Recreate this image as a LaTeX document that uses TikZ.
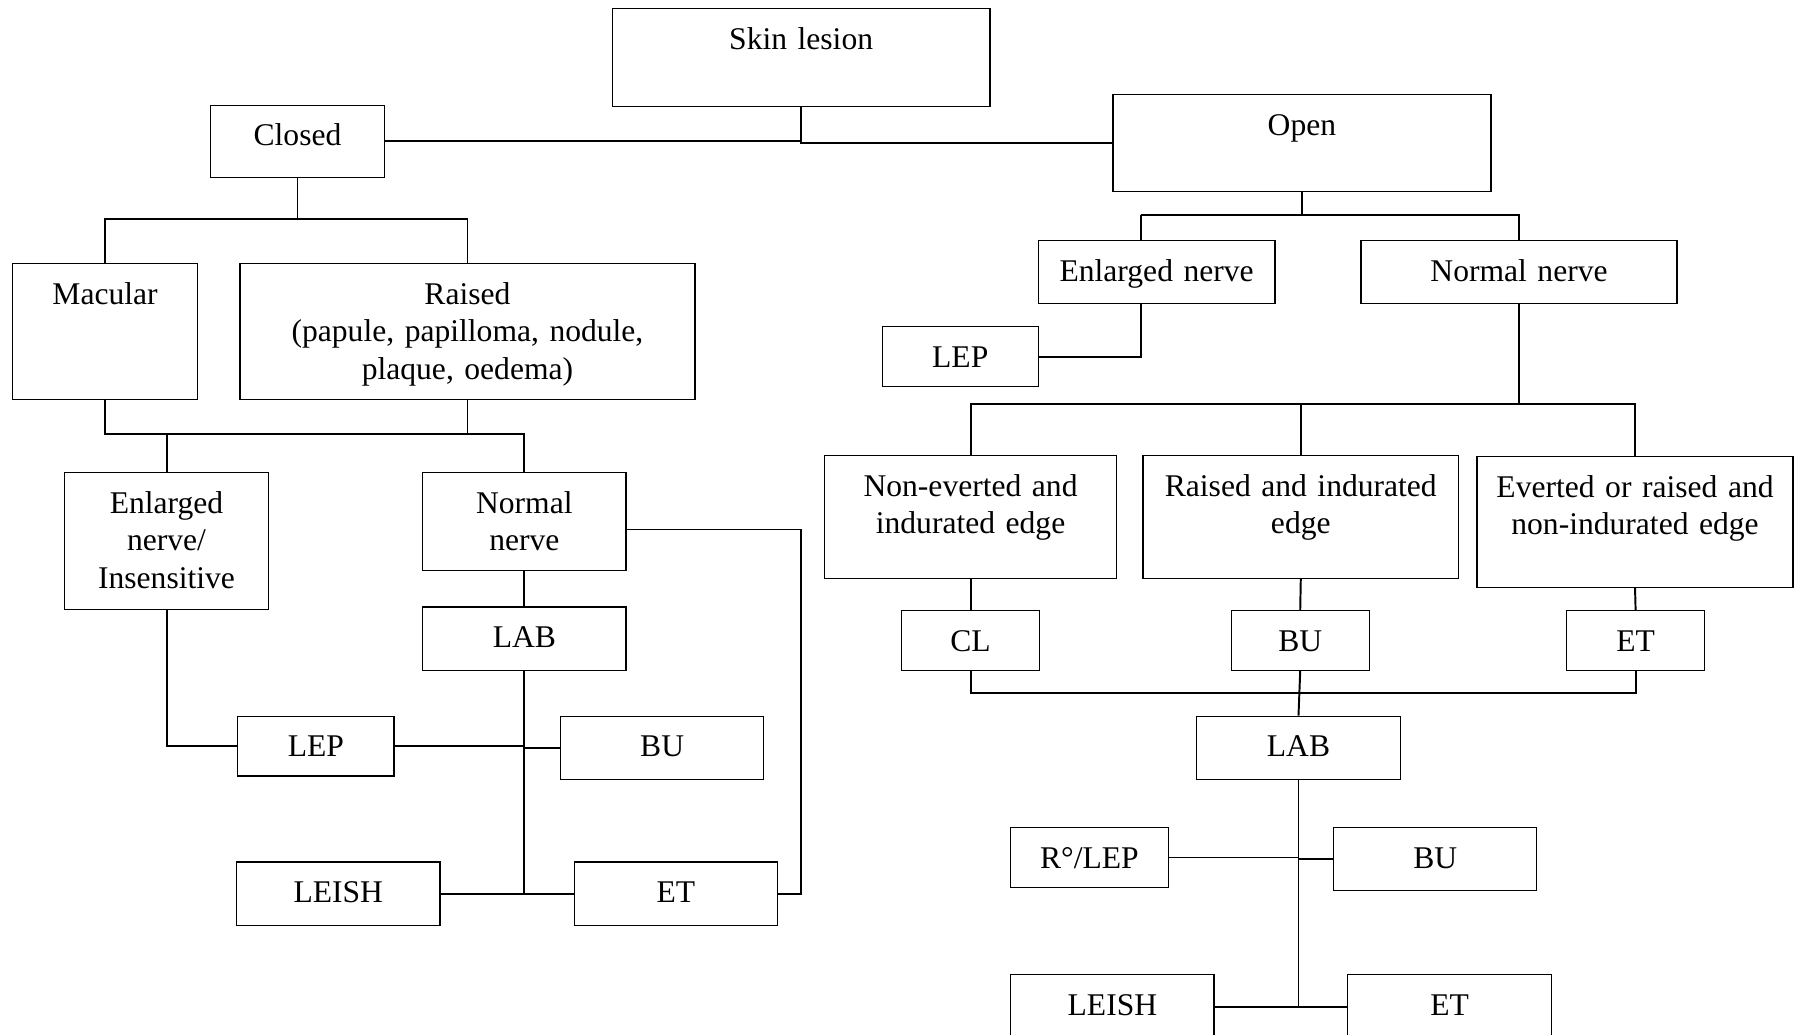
\documentclass[tikz,border=0pt]{standalone}
\usepackage{fontspec}
\setmainfont{Liberation Serif}

\tikzset{
  blk/.style 2 args={draw, line width=1.1pt, anchor=north, inner sep=0pt, align=center,
    text width=#1pt, text height=35.5pt, text depth=#2pt, font=\fontsize{27.5}{32.5}\selectfont},
  lnk/.style={line width=1.7pt}
}

\begin{document}
\begin{tikzpicture}[x=1pt, y=-1pt]
\useasboundingbox (0,0) rectangle (1568,901);

\node[blk={329}{49.5}] (skin) at (697.5,7) {Skin lesion};
\node[blk={152}{27.5}] (closed) at (259,91) {Closed};
\node[blk={329}{48.5}] (open) at (1133.5,82) {Open};

\node[blk={161}{82.5}] (macular) at (91.5,229) {Macular};
\node[blk={396}{82.5}] (raised) at (407,229) {Raised\\(papule, papilloma, nodule,\\plaque, oedema)};
\node[blk={178}{83.5}] (enl) at (145,411) {Enlarged\\nerve/\\Insensitive};
\node[blk={177}{49.5}] (nnl) at (456.5,411) {Normal\\nerve};
\node[blk={177}{19.5}] (labl) at (456.5,528) {LAB};
\node[blk={136}{16.5}] (lepl) at (275,623) {LEP};
\node[blk={177}{19.5}] (bul) at (576.5,623) {BU};
\node[blk={177}{19.5}] (leishl) at (294.5,750) {LEISH};
\node[blk={177}{19.5}] (etl) at (588.5,750) {ET};

\node[blk={206}{19.5}] (enr) at (1007,209) {Enlarged nerve};
\node[blk={275}{19.5}] (nnr) at (1322.5,209) {Normal nerve};
\node[blk={136}{16.5}] (lepr) at (836,284) {LEP};
\node[blk={254}{71.5}] (nev) at (845,396) {Non-everted and\\indurated edge};
\node[blk={275}{71.5}] (rai) at (1132.5,396) {Raised and indurated\\edge};
\node[blk={275}{78.5}] (eve) at (1423.5,397) {Everted or raised and\\non-indurated edge};
\node[blk={120}{16.5}] (cl) at (845,531) {CL};
\node[blk={120}{16.5}] (bur) at (1132,531) {BU};
\node[blk={120}{16.5}] (etr) at (1424,531) {ET};
\node[blk={177}{19.5}] (labr) at (1130.5,623) {LAB};
\node[blk={137}{16.5}] (rlep) at (948.5,720) {R°/LEP};
\node[blk={177}{19.5}] (bur2) at (1249.5,720) {BU};
\node[blk={177}{20.5}] (leishr) at (968.5,848) {LEISH};
\node[blk={178}{20.5}] (etr2) at (1262,848) {ET};

\coordinate (f1) at (259,191);
\coordinate (j1) at (145,378);
\coordinate (r1) at (697,461);
\coordinate (f2) at (1133.5,187);
\coordinate (f2l) at (993,187);
\coordinate (f3) at (1322.5,352);
\coordinate (j2) at (1131,603);

\draw[lnk] (closed.east) -- (closed.east -| skin.south);
\draw[lnk] (skin.south) |- (open.west);

\draw[lnk] (closed.south) -- (f1);
\draw[lnk] (macular.north) |- (f1) -| (raised.north);
\draw[lnk] (macular.south) |- (j1) -| (nnl.north);
\draw[lnk] (raised.south) -- (raised.south |- j1);
\draw[lnk] (enl.north) -- (j1);
\draw[lnk] (nnl.south) -- (labl.north);
\draw[lnk] (labl.south) -- (labl.south |- leishl.east);
\draw[lnk] (lepl.east) -- (lepl.east -| labl.south);
\draw[lnk] (bul.west) -- (bul.west -| labl.south);
\draw[lnk] (leishl.east) -- (etl.west);
\draw[lnk] (enl.south) |- (lepl.west);
\draw[lnk] (nnl.east |- r1) -- (r1) |- (etl.east);

\draw[lnk] (open.south) -- (f2);
\draw[lnk] (f2l) -- (f2l -| nnr.north) -- (nnr.north);
\draw[lnk] (f2l) -- (f2l |- enr.north);
\draw[lnk] (lepr.east) -| (f2l |- enr.south);
\draw[lnk] (nnr.south) -- (f3);
\draw[lnk] (nev.north) |- (f3) -| (eve.north);
\draw[lnk] (rai.north) -- (rai.north |- f3);
\draw[lnk] (nev.south) -- (cl.north);
\draw[lnk] (rai.south) -- (bur.north);
\draw[lnk] (eve.south) -- (etr.north);
\draw[lnk] (cl.south) |- (j2) -| (etr.south);
\draw[lnk] (bur.south) -- (labr.north);
\draw[lnk] (labr.south) -- (labr.south |- leishr.east);
\draw[lnk] (rlep.east) -- (rlep.east -| labr.south);
\draw[lnk] (bur2.west) -- (bur2.west -| labr.south);
\draw[lnk] (leishr.east) -- (etr2.west);
\end{tikzpicture}
\end{document}
